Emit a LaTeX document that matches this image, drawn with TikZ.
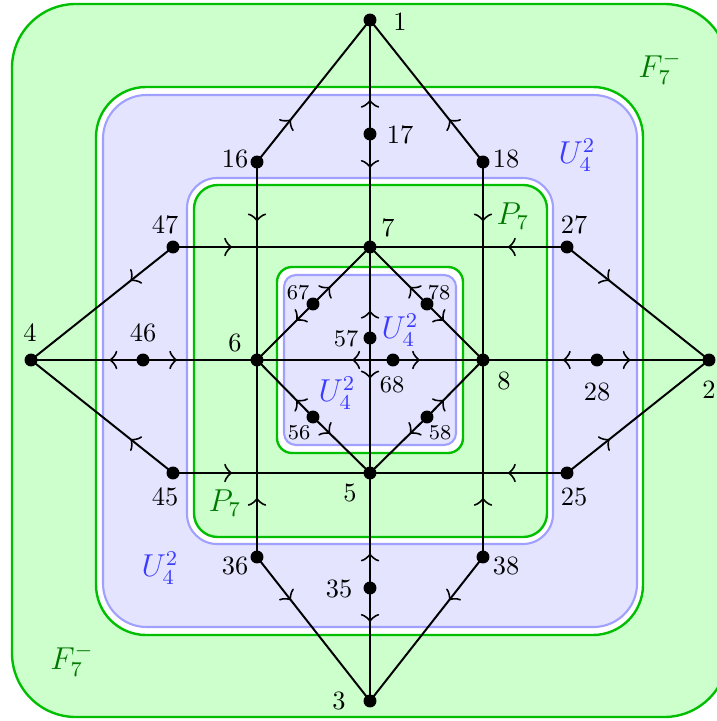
\documentclass[tikz,border=0pt]{standalone}
\usetikzlibrary{decorations.markings,arrows.meta}
\definecolor{fgreen}{RGB}{204,255,204}
\definecolor{lgreen}{RGB}{0,190,0}
\definecolor{ublue}{RGB}{228,228,255}
\definecolor{lblue}{RGB}{160,160,255}
\definecolor{tgreen}{RGB}{0,120,0}
\definecolor{tblue}{RGB}{60,60,255}
\begin{document}
\begin{tikzpicture}[x=0.3788pt,y=-0.3788pt,
  dot/.style={circle,fill=black,inner sep=0pt,minimum size=4.9pt},
  lab/.style={inner sep=0pt},
  slab/.style={inner sep=0pt,font=\small},
  tlab/.style={inner sep=0pt,font=\footnotesize},
  glab/.style={inner sep=0pt,font=\large,text=tgreen},
  blab/.style={inner sep=0pt,font=\large,text=tblue},
  edge/.style={line width=0.75pt,postaction={decorate},
    decoration={markings,mark=at position 0.3 with {\arrow{>}}}},
  >={Classical TikZ Rightarrow[length=3pt,width=7pt]},
  gbox/.style={draw=lgreen,line width=0.9pt},
  bbox/.style={draw=lblue,line width=0.8pt},
]
\useasboundingbox (0,0) rectangle (717,721);
% regions
\path[gbox,fill=fgreen,rounded corners=24.2pt] (12,4) rectangle (728,717);
\path[gbox,fill=white,rounded corners=19pt] (96,87) rectangle (643,635);
\path[bbox,fill=ublue,rounded corners=16.5pt] (103,95) rectangle (637,627);
\path[bbox,fill=white,rounded corners=11.4pt] (187,178) rectangle (553,544);
\path[gbox,fill=fgreen,rounded corners=9pt] (194,185) rectangle (547,537);
\path[gbox,fill=white,rounded corners=5.7pt] (277,267) rectangle (463,453);
\path[bbox,fill=ublue,rounded corners=4.5pt] (284,275) rectangle (456,445);
% region labels
\node[glab] (F1) at (660,68) {$F_7^-$};
\node[glab] (F2) at (72,660) {$F_7^-$};
\node[blab] (U1) at (577,155) {$U_4^2$};
\node[blab] (U2) at (160,568) {$U_4^2$};
\node[blab] (U3) at (400,330) {$U_4^2$};
\node[blab] (U4) at (337,393) {$U_4^2$};
\node[glab] (P1) at (513,216) {$P_7$};
\node[glab] (P2) at (225,503) {$P_7$};
% vertex coordinates
\coordinate (n1) at (370,20);
\coordinate (n17) at (370,134);
\coordinate (n16) at (257,162);
\coordinate (n18) at (483,162);
\coordinate (n47) at (173,247);
\coordinate (n7) at (370,247);
\coordinate (n27) at (567,247);
\coordinate (n4) at (31,360);
\coordinate (n46) at (143,360);
\coordinate (n6) at (257,360);
\coordinate (n8) at (483,360);
\coordinate (n28) at (597,360);
\coordinate (n2) at (709,360);
\coordinate (n45) at (173,473);
\coordinate (n5) at (370,473);
\coordinate (n25) at (567,473);
\coordinate (n36) at (257,557);
\coordinate (n38) at (483,557);
\coordinate (n35) at (370,588);
\coordinate (n3) at (370,701);
\coordinate (n57) at (370,338);
\coordinate (n68) at (393,360);
\coordinate (n67) at (313,304);
\coordinate (n78) at (427,304);
\coordinate (n56) at (313,417);
\coordinate (n58) at (427,417);
% edges (each subdivided edge drawn from its middle vertex outwards)
\foreach \m/\a/\b in {17/1/7,16/1/6,18/1/8,47/4/7,46/4/6,45/4/5,27/2/7,28/2/8,25/2/5,
  36/3/6,35/3/5,38/3/8,57/7/5,68/6/8,67/6/7,78/7/8,56/5/6,58/5/8}{
  \draw[edge] (n\m) -- (n\a);
  \draw[edge] (n\m) -- (n\b);
}
% dots
\foreach \v in {1,17,16,18,47,7,27,4,46,6,8,28,2,45,5,25,36,38,35,3,57,68,67,78,56,58}{
  \node[dot] (d\v) at (n\v) {};
}
% vertex labels
\node[lab] (l1) at (400,22) {1};
\node[lab] (l17) at (400,135) {17};
\node[lab] (l16) at (235,159) {16};
\node[lab] (l18) at (506,159) {18};
\node[lab] (l47) at (165,225) {47};
\node[lab] (l7) at (388,228) {7};
\node[lab] (l27) at (574,225) {27};
\node[lab] (l4) at (30,333) {4};
\node[lab] (l46) at (143,333) {46};
\node[lab] (l6) at (235,343) {6};
\node[lab] (l8) at (504,381) {8};
\node[lab] (l28) at (597,392) {28};
\node[lab] (l2) at (709,390) {2};
\node[lab] (l5) at (350,493) {5};
\node[lab] (l45) at (165,497) {45};
\node[lab] (l25) at (574,497) {25};
\node[lab] (l36) at (235,566) {36};
\node[lab] (l38) at (506,566) {38};
\node[lab] (l35) at (339,589) {35};
\node[lab] (l3) at (339,701) {3};
\node[slab] (l57) at (346,339) {57};
\node[slab] (l68) at (392,385) {68};
\node[tlab] (l67) at (298,293) {67};
\node[tlab] (l78) at (439,293) {78};
\node[tlab] (l56) at (299,433) {56};
\node[tlab] (l58) at (440,433) {58};
\end{tikzpicture}
\end{document}
